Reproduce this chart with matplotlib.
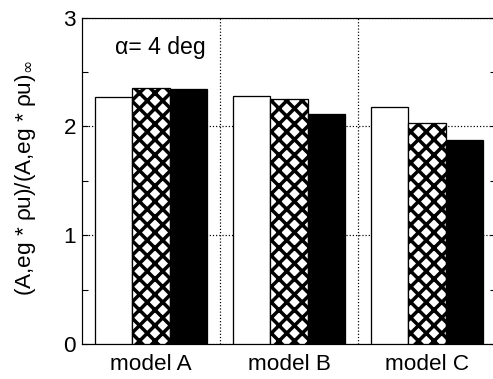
import numpy as np
import matplotlib
matplotlib.use("Agg")
import matplotlib.pyplot as plt

models = ['model A', 'model B', 'model C']
white_vals = [2.27, 2.28, 2.18]
hatch_vals = [2.35, 2.25, 2.03]
black_vals = [2.34, 2.11, 1.87]

DPI = 93  # chosen so the 'xx' hatch spacing matches the scan


def pt(px):
    # pixel size -> points at this dpi
    return px * 72 / DPI


plt.rcParams['font.family'] = ['Liberation Sans', 'DejaVu Sans']
plt.rcParams['hatch.linewidth'] = pt(3.5)
plt.rcParams['hatch.color'] = 'black'

fig = plt.figure(figsize=(493 / DPI, 379 / DPI), dpi=DPI)
ax = fig.add_axes([82 / 493, 1 - 344 / 379, 414 / 493, 326.5 / 379])

x = np.arange(1, len(models) + 1)
w = 0.27
ax.bar(x - w, white_vals, w, color='white', edgecolor='black', linewidth=pt(1.3), zorder=3)
ax.bar(x, hatch_vals, w, color='white', edgecolor='black', hatch='xx', linewidth=pt(1.3), zorder=3)
ax.bar(x + w, black_vals, w, color='black', edgecolor='black', linewidth=pt(1.3), zorder=3)

ax.set_xlim(0.5, 3.5)
ax.set_ylim(0, 3)
ax.set_xticks(x)
ax.set_xticklabels(models, fontsize=pt(22.5))
ax.set_xticks([1.5, 2.5], minor=True)
ax.tick_params(axis='x', which='both', length=0, pad=pt(10))
ax.set_yticks([0, 1, 2, 3])
ax.set_yticks([0.5, 1.5, 2.5], minor=True)
ax.tick_params(axis='y', which='both', direction='in', length=pt(6), width=pt(1.1),
               left=True, right=True, labelsize=pt(22.5), pad=pt(6))
ax.grid(True, axis='x', which='minor', linestyle=':', color='black', linewidth=pt(1.2), zorder=1)
ax.grid(True, axis='y', which='major', linestyle=':', color='black', linewidth=pt(1.2), zorder=1)
for s in ax.spines.values():
    s.set_linewidth(pt(1.2))

ax.text(0.74, 2.72, 'α= 4 deg', fontsize=pt(23), ha='left', va='center')
fig.text(26 / 493, 1 - 178 / 379, '(A,eg * ρu)/(A,eg * ρu)$_{\\infty}$',
         rotation=90, ha='center', va='center', fontsize=pt(22.5))

plt.savefig('out.png', dpi=DPI)
